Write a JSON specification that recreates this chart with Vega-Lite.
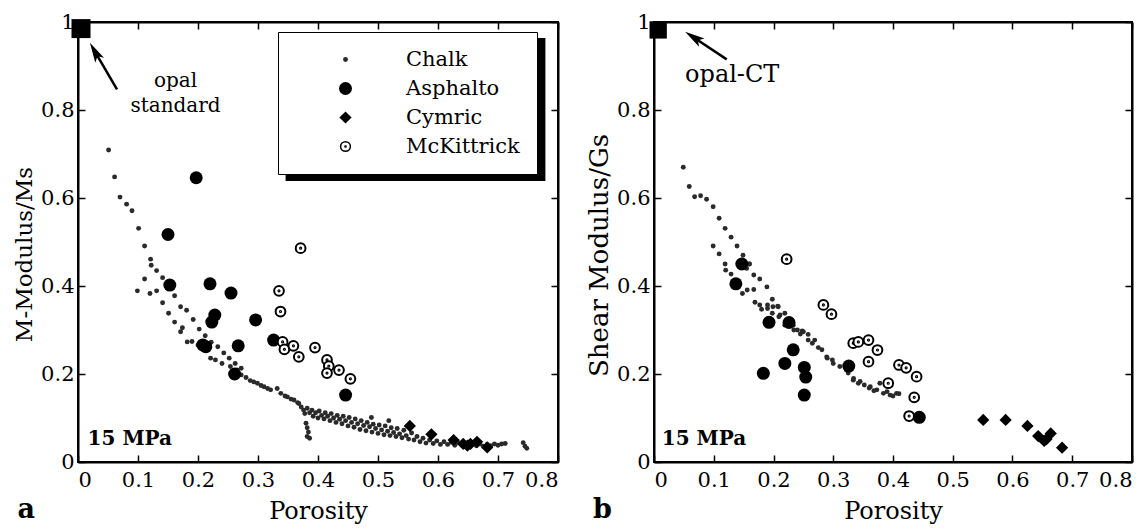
{
"$schema": "https://vega.github.io/schema/vega-lite/v6.json",
"padding": {"left": 13, "top": 11, "right": 5, "bottom": 5},
"config": {
  "view": {"stroke": null},
  "font": "DejaVu Serif",
  "axis": {"grid": false, "tickSize": -7, "labelFont": "DejaVu Serif", "labelFontSize": 21, "labelColor": "black", "titleFont": "DejaVu Serif", "titleFontWeight": "normal", "titleColor": "black"},
  "axisX": {"labelPadding": 14, "titleFontSize": 24, "titlePadding": 9},
  "axisY": {"labelPadding": 11, "titleFontSize": 23, "titlePadding": 4}
},
"datasets": {
"mmod": [
{"series":"Chalk","porosity":0.051,"value":0.709},{"series":"Chalk","porosity":0.061,"value":0.648},{"series":"Chalk","porosity":0.070,"value":0.602},{"series":"Chalk","porosity":0.081,"value":0.586},{"series":"Chalk","porosity":0.090,"value":0.571},{"series":"Chalk","porosity":0.101,"value":0.531},{"series":"Chalk","porosity":0.111,"value":0.491},{"series":"Chalk","porosity":0.121,"value":0.461},{"series":"Chalk","porosity":0.122,"value":0.447},{"series":"Chalk","porosity":0.131,"value":0.435},{"series":"Chalk","porosity":0.141,"value":0.419},{"series":"Chalk","porosity":0.151,"value":0.398},{"series":"Chalk","porosity":0.161,"value":0.378},{"series":"Chalk","porosity":0.171,"value":0.353},{"series":"Chalk","porosity":0.181,"value":0.345},{"series":"Chalk","porosity":0.192,"value":0.324},{"series":"Chalk","porosity":0.202,"value":0.302},{"series":"Chalk","porosity":0.212,"value":0.287},{"series":"Chalk","porosity":0.222,"value":0.272},{"series":"Chalk","porosity":0.233,"value":0.262},{"series":"Chalk","porosity":0.243,"value":0.248},{"series":"Chalk","porosity":0.252,"value":0.236},{"series":"Chalk","porosity":0.262,"value":0.224},{"series":"Chalk","porosity":0.272,"value":0.213},
{"series":"Chalk","porosity":0.099,"value":0.389},{"series":"Chalk","porosity":0.111,"value":0.416},{"series":"Chalk","porosity":0.120,"value":0.383},{"series":"Chalk","porosity":0.131,"value":0.389},{"series":"Chalk","porosity":0.141,"value":0.362},{"series":"Chalk","porosity":0.151,"value":0.338},{"series":"Chalk","porosity":0.161,"value":0.318},{"series":"Chalk","porosity":0.171,"value":0.296},{"series":"Chalk","porosity":0.174,"value":0.305},{"series":"Chalk","porosity":0.182,"value":0.273},{"series":"Chalk","porosity":0.190,"value":0.274},{"series":"Chalk","porosity":0.200,"value":0.266},{"series":"Chalk","porosity":0.210,"value":0.255},{"series":"Chalk","porosity":0.221,"value":0.236},{"series":"Chalk","porosity":0.229,"value":0.232},{"series":"Chalk","porosity":0.240,"value":0.224},{"series":"Chalk","porosity":0.254,"value":0.217},{"series":"Chalk","porosity":0.265,"value":0.209},{"series":"Chalk","porosity":0.272,"value":0.198},{"series":"Chalk","porosity":0.280,"value":0.192},{"series":"Chalk","porosity":0.287,"value":0.185},{"series":"Chalk","porosity":0.293,"value":0.182},{"series":"Chalk","porosity":0.299,"value":0.179},{"series":"Chalk","porosity":0.305,"value":0.174},{"series":"Chalk","porosity":0.310,"value":0.171},{"series":"Chalk","porosity":0.316,"value":0.167},{"series":"Chalk","porosity":0.321,"value":0.164},{"series":"Chalk","porosity":0.332,"value":0.167},{"series":"Chalk","porosity":0.338,"value":0.156},{"series":"Chalk","porosity":0.345,"value":0.150},{"series":"Chalk","porosity":0.349,"value":0.148},{"series":"Chalk","porosity":0.355,"value":0.143},{"series":"Chalk","porosity":0.360,"value":0.141},{"series":"Chalk","porosity":0.366,"value":0.135},{"series":"Chalk","porosity":0.368,"value":0.133},
{"series":"Chalk","porosity":0.380,"value":0.088},{"series":"Chalk","porosity":0.382,"value":0.078},{"series":"Chalk","porosity":0.384,"value":0.068},{"series":"Chalk","porosity":0.382,"value":0.058},{"series":"Chalk","porosity":0.386,"value":0.054},
{"series":"Chalk","porosity":0.372,"value":0.125},{"series":"Chalk","porosity":0.376,"value":0.118},{"series":"Chalk","porosity":0.378,"value":0.110},{"series":"Chalk","porosity":0.382,"value":0.122},{"series":"Chalk","porosity":0.386,"value":0.112},{"series":"Chalk","porosity":0.390,"value":0.118},{"series":"Chalk","porosity":0.392,"value":0.104},{"series":"Chalk","porosity":0.396,"value":0.112},{"series":"Chalk","porosity":0.400,"value":0.100},{"series":"Chalk","porosity":0.402,"value":0.116},{"series":"Chalk","porosity":0.406,"value":0.106},{"series":"Chalk","porosity":0.410,"value":0.098},{"series":"Chalk","porosity":0.412,"value":0.112},{"series":"Chalk","porosity":0.416,"value":0.104},{"series":"Chalk","porosity":0.420,"value":0.094},{"series":"Chalk","porosity":0.422,"value":0.110},{"series":"Chalk","porosity":0.426,"value":0.100},{"series":"Chalk","porosity":0.430,"value":0.090},{"series":"Chalk","porosity":0.432,"value":0.106},{"series":"Chalk","porosity":0.436,"value":0.097},{"series":"Chalk","porosity":0.440,"value":0.087},{"series":"Chalk","porosity":0.442,"value":0.104},{"series":"Chalk","porosity":0.446,"value":0.094},{"series":"Chalk","porosity":0.450,"value":0.082},{"series":"Chalk","porosity":0.452,"value":0.101},{"series":"Chalk","porosity":0.456,"value":0.090},{"series":"Chalk","porosity":0.460,"value":0.079},{"series":"Chalk","porosity":0.462,"value":0.098},{"series":"Chalk","porosity":0.466,"value":0.087},{"series":"Chalk","porosity":0.470,"value":0.074},{"series":"Chalk","porosity":0.472,"value":0.094},{"series":"Chalk","porosity":0.476,"value":0.083},{"series":"Chalk","porosity":0.480,"value":0.071},{"series":"Chalk","porosity":0.482,"value":0.090},{"series":"Chalk","porosity":0.486,"value":0.080},{"series":"Chalk","porosity":0.489,"value":0.101},{"series":"Chalk","porosity":0.490,"value":0.068},{"series":"Chalk","porosity":0.492,"value":0.086},{"series":"Chalk","porosity":0.496,"value":0.076},{"series":"Chalk","porosity":0.500,"value":0.065},{"series":"Chalk","porosity":0.502,"value":0.084},{"series":"Chalk","porosity":0.506,"value":0.073},{"series":"Chalk","porosity":0.510,"value":0.062},{"series":"Chalk","porosity":0.512,"value":0.082},{"series":"Chalk","porosity":0.516,"value":0.070},{"series":"Chalk","porosity":0.518,"value":0.094},{"series":"Chalk","porosity":0.520,"value":0.060},{"series":"Chalk","porosity":0.522,"value":0.078},{"series":"Chalk","porosity":0.526,"value":0.067},{"series":"Chalk","porosity":0.530,"value":0.058},{"series":"Chalk","porosity":0.532,"value":0.076},{"series":"Chalk","porosity":0.536,"value":0.064},{"series":"Chalk","porosity":0.540,"value":0.055},{"series":"Chalk","porosity":0.543,"value":0.072},{"series":"Chalk","porosity":0.547,"value":0.060},{"series":"Chalk","porosity":0.551,"value":0.052},{"series":"Chalk","porosity":0.556,"value":0.066},{"series":"Chalk","porosity":0.560,"value":0.050},{"series":"Chalk","porosity":0.565,"value":0.058},{"series":"Chalk","porosity":0.570,"value":0.046},{"series":"Chalk","porosity":0.575,"value":0.054},{"series":"Chalk","porosity":0.580,"value":0.043},{"series":"Chalk","porosity":0.586,"value":0.050},{"series":"Chalk","porosity":0.592,"value":0.042},{"series":"Chalk","porosity":0.598,"value":0.048},{"series":"Chalk","porosity":0.604,"value":0.040},{"series":"Chalk","porosity":0.610,"value":0.046},{"series":"Chalk","porosity":0.616,"value":0.040},{"series":"Chalk","porosity":0.622,"value":0.045},{"series":"Chalk","porosity":0.628,"value":0.038},{"series":"Chalk","porosity":0.634,"value":0.044},{"series":"Chalk","porosity":0.640,"value":0.038},{"series":"Chalk","porosity":0.646,"value":0.043},{"series":"Chalk","porosity":0.652,"value":0.037},{"series":"Chalk","porosity":0.658,"value":0.042},{"series":"Chalk","porosity":0.664,"value":0.037},{"series":"Chalk","porosity":0.670,"value":0.041},{"series":"Chalk","porosity":0.676,"value":0.036},{"series":"Chalk","porosity":0.682,"value":0.040},{"series":"Chalk","porosity":0.688,"value":0.037},{"series":"Chalk","porosity":0.694,"value":0.041},{"series":"Chalk","porosity":0.700,"value":0.038},{"series":"Chalk","porosity":0.706,"value":0.041},{"series":"Chalk","porosity":0.712,"value":0.042},{"series":"Chalk","porosity":0.742,"value":0.044},{"series":"Chalk","porosity":0.745,"value":0.036},{"series":"Chalk","porosity":0.748,"value":0.031},
{"series":"Asphalto","porosity":0.197,"value":0.646},{"series":"Asphalto","porosity":0.150,"value":0.517},{"series":"Asphalto","porosity":0.153,"value":0.402},{"series":"Asphalto","porosity":0.220,"value":0.405},{"series":"Asphalto","porosity":0.255,"value":0.384},{"series":"Asphalto","porosity":0.228,"value":0.334},{"series":"Asphalto","porosity":0.223,"value":0.318},{"series":"Asphalto","porosity":0.296,"value":0.323},{"series":"Asphalto","porosity":0.326,"value":0.277},{"series":"Asphalto","porosity":0.208,"value":0.266},{"series":"Asphalto","porosity":0.213,"value":0.262},{"series":"Asphalto","porosity":0.267,"value":0.264},{"series":"Asphalto","porosity":0.261,"value":0.200},{"series":"Asphalto","porosity":0.446,"value":0.152},
{"series":"Cymric","porosity":0.553,"value":0.082},{"series":"Cymric","porosity":0.589,"value":0.063},{"series":"Cymric","porosity":0.626,"value":0.050},{"series":"Cymric","porosity":0.642,"value":0.041},{"series":"Cymric","porosity":0.649,"value":0.037},{"series":"Cymric","porosity":0.654,"value":0.041},{"series":"Cymric","porosity":0.665,"value":0.046},{"series":"Cymric","porosity":0.682,"value":0.033},
{"series":"McKittrick","porosity":0.335,"value":0.389},{"series":"McKittrick","porosity":0.3375,"value":0.342},{"series":"McKittrick","porosity":0.341,"value":0.273},{"series":"McKittrick","porosity":0.344,"value":0.256},{"series":"McKittrick","porosity":0.359,"value":0.264},{"series":"McKittrick","porosity":0.368,"value":0.239},{"series":"McKittrick","porosity":0.395,"value":0.260},{"series":"McKittrick","porosity":0.415,"value":0.232},{"series":"McKittrick","porosity":0.418,"value":0.218},{"series":"McKittrick","porosity":0.415,"value":0.202},{"series":"McKittrick","porosity":0.435,"value":0.209},{"series":"McKittrick","porosity":0.454,"value":0.189},{"series":"McKittrick","porosity":0.371,"value":0.486}
],
"gmod": [
{"series":"Chalk","porosity":0.049,"value":0.670},{"series":"Chalk","porosity":0.059,"value":0.626},{"series":"Chalk","porosity":0.068,"value":0.603},{"series":"Chalk","porosity":0.078,"value":0.605},{"series":"Chalk","porosity":0.088,"value":0.597},{"series":"Chalk","porosity":0.099,"value":0.580},{"series":"Chalk","porosity":0.109,"value":0.554},{"series":"Chalk","porosity":0.119,"value":0.531},{"series":"Chalk","porosity":0.129,"value":0.511},{"series":"Chalk","porosity":0.139,"value":0.491},{"series":"Chalk","porosity":0.149,"value":0.470},{"series":"Chalk","porosity":0.159,"value":0.450},{"series":"Chalk","porosity":0.167,"value":0.425},{"series":"Chalk","porosity":0.177,"value":0.416},{"series":"Chalk","porosity":0.189,"value":0.398},{"series":"Chalk","porosity":0.198,"value":0.370},{"series":"Chalk","porosity":0.208,"value":0.353},{"series":"Chalk","porosity":0.219,"value":0.338},{"series":"Chalk","porosity":0.229,"value":0.315},{"series":"Chalk","porosity":0.240,"value":0.300},{"series":"Chalk","porosity":0.248,"value":0.298},{"series":"Chalk","porosity":0.258,"value":0.277},{"series":"Chalk","porosity":0.269,"value":0.277},{"series":"Chalk","porosity":0.281,"value":0.255},{"series":"Chalk","porosity":0.289,"value":0.239},{"series":"Chalk","porosity":0.300,"value":0.224},{"series":"Chalk","porosity":0.311,"value":0.217},{"series":"Chalk","porosity":0.325,"value":0.202},{"series":"Chalk","porosity":0.334,"value":0.190},{"series":"Chalk","porosity":0.345,"value":0.183},{"series":"Chalk","porosity":0.362,"value":0.171},{"series":"Chalk","porosity":0.373,"value":0.164},{"series":"Chalk","porosity":0.384,"value":0.156},{"series":"Chalk","porosity":0.395,"value":0.152},{"series":"Chalk","porosity":0.406,"value":0.156},{"series":"Chalk","porosity":0.378,"value":0.179},{"series":"Chalk","porosity":0.390,"value":0.160},{"series":"Chalk","porosity":0.400,"value":0.150},{"series":"Chalk","porosity":0.410,"value":0.155},
{"series":"Chalk","porosity":0.099,"value":0.491},{"series":"Chalk","porosity":0.109,"value":0.473},{"series":"Chalk","porosity":0.119,"value":0.450},{"series":"Chalk","porosity":0.120,"value":0.436},{"series":"Chalk","porosity":0.129,"value":0.427},{"series":"Chalk","porosity":0.148,"value":0.383},{"series":"Chalk","porosity":0.156,"value":0.391},{"series":"Chalk","porosity":0.167,"value":0.392},{"series":"Chalk","porosity":0.169,"value":0.363},{"series":"Chalk","porosity":0.180,"value":0.347},{"series":"Chalk","porosity":0.190,"value":0.349},{"series":"Chalk","porosity":0.199,"value":0.353},{"series":"Chalk","porosity":0.207,"value":0.354},{"series":"Chalk","porosity":0.198,"value":0.338},{"series":"Chalk","porosity":0.209,"value":0.330},{"series":"Chalk","porosity":0.219,"value":0.311},{"series":"Chalk","porosity":0.234,"value":0.300},{"series":"Chalk","porosity":0.245,"value":0.291},{"series":"Chalk","porosity":0.177,"value":0.357},{"series":"Chalk","porosity":0.190,"value":0.357},{"series":"Chalk","porosity":0.211,"value":0.334},{"series":"Chalk","porosity":0.233,"value":0.311},{"series":"Chalk","porosity":0.250,"value":0.296},{"series":"Chalk","porosity":0.258,"value":0.290},{"series":"Chalk","porosity":0.265,"value":0.270},{"series":"Chalk","porosity":0.275,"value":0.260},{"series":"Chalk","porosity":0.290,"value":0.236},{"series":"Chalk","porosity":0.2985,"value":0.232},{"series":"Chalk","porosity":0.322,"value":0.209},{"series":"Chalk","porosity":0.3335,"value":0.186},{"series":"Chalk","porosity":0.342,"value":0.179},{"series":"Chalk","porosity":0.352,"value":0.175},{"series":"Chalk","porosity":0.360,"value":0.168},{"series":"Chalk","porosity":0.368,"value":0.162},{"series":"Chalk","porosity":0.155,"value":0.440},{"series":"Chalk","porosity":0.160,"value":0.450},
{"series":"Asphalto","porosity":0.147,"value":0.450},{"series":"Asphalto","porosity":0.137,"value":0.405},{"series":"Asphalto","porosity":0.1925,"value":0.3175},{"series":"Asphalto","porosity":0.226,"value":0.317},{"series":"Asphalto","porosity":0.183,"value":0.2015},{"series":"Asphalto","porosity":0.219,"value":0.224},{"series":"Asphalto","porosity":0.233,"value":0.255},{"series":"Asphalto","porosity":0.2515,"value":0.215},{"series":"Asphalto","porosity":0.254,"value":0.193},{"series":"Asphalto","porosity":0.2515,"value":0.152},{"series":"Asphalto","porosity":0.326,"value":0.218},{"series":"Asphalto","porosity":0.444,"value":0.1015},
{"series":"Cymric","porosity":0.551,"value":0.0955},{"series":"Cymric","porosity":0.5885,"value":0.0955},{"series":"Cymric","porosity":0.625,"value":0.082},{"series":"Cymric","porosity":0.643,"value":0.059},{"series":"Cymric","porosity":0.653,"value":0.048},{"series":"Cymric","porosity":0.657,"value":0.052},{"series":"Cymric","porosity":0.664,"value":0.065},{"series":"Cymric","porosity":0.683,"value":0.0325},
{"series":"McKittrick","porosity":0.222,"value":0.461},{"series":"McKittrick","porosity":0.2835,"value":0.357},{"series":"McKittrick","porosity":0.297,"value":0.336},{"series":"McKittrick","porosity":0.3335,"value":0.270},{"series":"McKittrick","porosity":0.342,"value":0.273},{"series":"McKittrick","porosity":0.359,"value":0.277},{"series":"McKittrick","porosity":0.374,"value":0.2545},{"series":"McKittrick","porosity":0.359,"value":0.228},{"series":"McKittrick","porosity":0.410,"value":0.2205},{"series":"McKittrick","porosity":0.422,"value":0.214},{"series":"McKittrick","porosity":0.4395,"value":0.194},{"series":"McKittrick","porosity":0.392,"value":0.179},{"series":"McKittrick","porosity":0.4355,"value":0.147},{"series":"McKittrick","porosity":0.427,"value":0.1045}
]
},
"spacing": 96,
"bounds": "flush",
"resolve": {
  "scale": {"shape": "independent", "size": "independent", "fill": "independent", "stroke": "independent"},
  "legend": {"shape": "independent", "size": "independent", "fill": "independent", "stroke": "independent"}
},
"hconcat": [
{
  "width": 480, "height": 440,
  "layer": [
    {"data": {"values": [{"porosity": 0.346, "p2": 0.779, "value": 0.9636, "v2": 0.6386}]}, "mark": {"type": "rect", "color": "black"},
     "encoding": {"x": {"field": "porosity", "type": "quantitative", "scale": {"domain": [0, 0.8]}, "axis": null}, "x2": {"field": "p2"}, "y": {"field": "value", "type": "quantitative", "scale": {"domain": [0, 1]}, "axis": null}, "y2": {"field": "v2"}}},
    {"data": {"name": "mmod"}, "mark": {"type": "point", "opacity": 1, "strokeWidth": 2},
     "encoding": {
       "x": {"field": "porosity", "type": "quantitative", "scale": {"domain": [0, 0.8]}, "axis": {"orient": "bottom", "title": "Porosity", "values": [0,0.1,0.2,0.3,0.4,0.5,0.6,0.7,0.8], "format": ".1~f", "domain": true, "ticks": true, "domainColor": "black", "domainWidth": 2, "domainOpacity": 1, "tickColor": "black", "tickWidth": 1.5, "tickOpacity": 1, "tickSize": -7}},
       "y": {"field": "value", "type": "quantitative", "scale": {"domain": [0, 1]}, "axis": {"orient": "left", "title": "M-Modulus/Ms", "titleY": 232, "values": [0,0.2,0.4,0.6,0.8,1], "format": ".1~f", "domain": true, "ticks": true, "domainColor": "black", "domainWidth": 2, "domainOpacity": 1, "tickColor": "black", "tickWidth": 1.5, "tickOpacity": 1, "tickSize": -7}},
       "shape": {"field": "series", "type": "nominal", "scale": {"domain": ["Chalk","Asphalto","Cymric","McKittrick"], "range": ["circle","circle","diamond","M -1 0 A 1 1 0 1 1 1 0 A 1 1 0 1 1 -1 0 Z M -0.12 0 A 0.12 0.12 0 1 1 0.12 0 A 0.12 0.12 0 1 1 -0.12 0 Z"]},
         "legend": {"orient": "none", "legendX": 200, "legendY": 10, "title": null, "strokeColor": "black", "fillColor": "white", "padding": 17, "labelFont": "DejaVu Serif", "labelFontSize": 21, "labelColor": "black", "symbolOffset": 40, "labelOffset": 50, "rowPadding": 7,
           "encode": {"legend": {"update": {"strokeWidth": {"value": 2}}}, "labels": {"update": {"fill": {"signal": "datum.label === 'Chalk' ? '#8a8a8a' : 'black'"}}}}}},
       "size": {"field": "series", "type": "nominal", "scale": {"type": "ordinal", "domain": ["Chalk","Asphalto","Cymric","McKittrick"], "range": [24, 169, 150, 95]}},
       "fill": {"field": "series", "type": "nominal", "scale": {"domain": ["Chalk","Asphalto","Cymric","McKittrick"], "range": ["#2a2a2a","black","black","white"]}},
       "stroke": {"field": "series", "type": "nominal", "scale": {"domain": ["Chalk","Asphalto","Cymric","McKittrick"], "range": ["transparent","transparent","transparent","black"]}}
     }},
    {"data": {"values": [{"porosity": 0.005, "value": 0.985}]}, "mark": {"type": "point", "shape": "square", "size": 361, "filled": true, "color": "black", "opacity": 1},
     "encoding": {"x": {"field": "porosity", "type": "quantitative", "scale": {"domain": [0, 0.8]}, "axis": null}, "y": {"field": "value", "type": "quantitative", "scale": {"domain": [0, 1]}, "axis": null}}},
    {"data": {"values": [{"porosity": 0.065, "value": 0.847, "p2": 0.028, "v2": 0.933}]}, "mark": {"type": "rule", "strokeWidth": 2.5, "color": "black"},
     "encoding": {"x": {"field": "porosity", "type": "quantitative", "scale": {"domain": [0, 0.8]}, "axis": null}, "x2": {"field": "p2"}, "y": {"field": "value", "type": "quantitative", "scale": {"domain": [0, 1]}, "axis": null}, "y2": {"field": "v2"}}},
    {"data": {"values": [{"porosity": 0.028, "value": 0.933}]}, "mark": {"type": "point", "shape": "M 0 -1 L -0.5 1 L 0 0.55 L 0.5 1 Z", "size": 400, "angle": 331, "filled": true, "color": "black", "opacity": 1},
     "encoding": {"x": {"field": "porosity", "type": "quantitative", "scale": {"domain": [0, 0.8]}, "axis": null}, "y": {"field": "value", "type": "quantitative", "scale": {"domain": [0, 1]}, "axis": null}}},
    {"data": {"values": [{"porosity": 0.1625, "value": 0.852, "label": "opal"}, {"porosity": 0.1625, "value": 0.795, "label": "standard"}]}, "mark": {"type": "text", "fontSize": 20, "align": "center", "baseline": "alphabetic", "font": "DejaVu Serif", "color": "black"},
     "encoding": {"x": {"field": "porosity", "type": "quantitative", "scale": {"domain": [0, 0.8]}, "axis": null}, "y": {"field": "value", "type": "quantitative", "scale": {"domain": [0, 1]}, "axis": null}, "text": {"field": "label"}}},
    {"data": {"values": [{"porosity": 0.016, "value": 0.039, "label": "15 MPa"}]}, "mark": {"type": "text", "fontSize": 20, "fontWeight": "bold", "align": "left", "baseline": "alphabetic", "font": "DejaVu Serif", "color": "black"},
     "encoding": {"x": {"field": "porosity", "type": "quantitative", "scale": {"domain": [0, 0.8]}, "axis": null}, "y": {"field": "value", "type": "quantitative", "scale": {"domain": [0, 1]}, "axis": null}, "text": {"field": "label"}}},
    {"data": {"values": [{"porosity": -0.101, "value": -0.127, "label": "a"}]}, "mark": {"type": "text", "fontSize": 27, "fontWeight": "bold", "align": "left", "baseline": "alphabetic", "font": "DejaVu Serif", "color": "black"},
     "encoding": {"x": {"field": "porosity", "type": "quantitative", "scale": {"domain": [0, 0.8]}, "axis": null}, "y": {"field": "value", "type": "quantitative", "scale": {"domain": [0, 1]}, "axis": null}, "text": {"field": "label"}}},
    {"data": {"name": "mmod"}, "mark": {"type": "point", "opacity": 0},
     "encoding": {
       "x": {"field": "porosity", "type": "quantitative", "scale": {"domain": [0, 0.8]}, "axis": {"orient": "top", "labels": false, "title": null, "values": [0,0.1,0.2,0.3,0.4,0.5,0.6,0.7,0.8], "domain": true, "ticks": true, "domainColor": "black", "domainWidth": 2, "domainOpacity": 1, "tickColor": "black", "tickWidth": 1.5, "tickOpacity": 1, "tickSize": -7}},
       "y": {"field": "value", "type": "quantitative", "scale": {"domain": [0, 1]}, "axis": {"orient": "right", "labels": false, "title": null, "values": [0,0.2,0.4,0.6,0.8,1], "domain": true, "ticks": true, "domainColor": "black", "domainWidth": 2, "domainOpacity": 1, "tickColor": "black", "tickWidth": 1.5, "tickOpacity": 1, "tickSize": -7}}
     }},
    {"data": {"values": [{"porosity": 0, "p2": 0.8, "value": 0, "v2": 1}]}, "mark": {"type": "rect", "fill": "transparent", "stroke": "black", "strokeWidth": 2, "strokeOpacity": 1},
     "encoding": {"x": {"field": "porosity", "type": "quantitative", "scale": {"domain": [0, 0.8]}, "axis": null}, "x2": {"field": "p2"}, "y": {"field": "value", "type": "quantitative", "scale": {"domain": [0, 1]}, "axis": null}, "y2": {"field": "v2"}}}
  ],
  "resolve": {"axis": {"x": "independent", "y": "independent"}}
},
{
  "width": 478, "height": 440,
  "layer": [
    {"data": {"name": "gmod"}, "mark": {"type": "point", "opacity": 1, "strokeWidth": 2},
     "encoding": {
       "x": {"field": "porosity", "type": "quantitative", "scale": {"domain": [0, 0.8]}, "axis": {"orient": "bottom", "title": "Porosity", "values": [0,0.1,0.2,0.3,0.4,0.5,0.6,0.7,0.8], "format": ".1~f", "domain": true, "ticks": true, "domainColor": "black", "domainWidth": 2, "domainOpacity": 1, "tickColor": "black", "tickWidth": 1.5, "tickOpacity": 1, "tickSize": -7}},
       "y": {"field": "value", "type": "quantitative", "scale": {"domain": [0, 1]}, "axis": {"orient": "left", "title": "Shear Modulus/Gs", "titleFontSize": 26, "titleY": 233, "values": [0,0.2,0.4,0.6,0.8,1], "format": ".1~f", "domain": true, "ticks": true, "domainColor": "black", "domainWidth": 2, "domainOpacity": 1, "tickColor": "black", "tickWidth": 1.5, "tickOpacity": 1, "tickSize": -7}},
       "shape": {"field": "series", "type": "nominal", "scale": {"domain": ["Chalk","Asphalto","Cymric","McKittrick"], "range": ["circle","circle","diamond","M -1 0 A 1 1 0 1 1 1 0 A 1 1 0 1 1 -1 0 Z M -0.12 0 A 0.12 0.12 0 1 1 0.12 0 A 0.12 0.12 0 1 1 -0.12 0 Z"]}, "legend": null},
       "size": {"field": "series", "type": "nominal", "scale": {"type": "ordinal", "domain": ["Chalk","Asphalto","Cymric","McKittrick"], "range": [24, 169, 150, 95]}, "legend": null},
       "fill": {"field": "series", "type": "nominal", "scale": {"domain": ["Chalk","Asphalto","Cymric","McKittrick"], "range": ["#2a2a2a","black","black","white"]}, "legend": null},
       "stroke": {"field": "series", "type": "nominal", "scale": {"domain": ["Chalk","Asphalto","Cymric","McKittrick"], "range": ["transparent","transparent","transparent","black"]}, "legend": null}
     }},
    {"data": {"values": [{"porosity": 0.007, "value": 0.982}]}, "mark": {"type": "point", "shape": "square", "size": 300, "filled": true, "color": "black", "opacity": 1},
     "encoding": {"x": {"field": "porosity", "type": "quantitative", "scale": {"domain": [0, 0.8]}, "axis": null}, "y": {"field": "value", "type": "quantitative", "scale": {"domain": [0, 1]}, "axis": null}}},
    {"data": {"values": [{"porosity": 0.1217, "value": 0.915, "p2": 0.066, "v2": 0.9655}]}, "mark": {"type": "rule", "strokeWidth": 2.5, "color": "black"},
     "encoding": {"x": {"field": "porosity", "type": "quantitative", "scale": {"domain": [0, 0.8]}, "axis": null}, "x2": {"field": "p2"}, "y": {"field": "value", "type": "quantitative", "scale": {"domain": [0, 1]}, "axis": null}, "y2": {"field": "v2"}}},
    {"data": {"values": [{"porosity": 0.066, "value": 0.9655}]}, "mark": {"type": "point", "shape": "M 0 -1 L -0.5 1 L 0 0.55 L 0.5 1 Z", "size": 400, "angle": 303.5, "filled": true, "color": "black", "opacity": 1},
     "encoding": {"x": {"field": "porosity", "type": "quantitative", "scale": {"domain": [0, 0.8]}, "axis": null}, "y": {"field": "value", "type": "quantitative", "scale": {"domain": [0, 1]}, "axis": null}}},
    {"data": {"values": [{"porosity": 0.052, "value": 0.864, "label": "opal-CT"}]}, "mark": {"type": "text", "fontSize": 24, "align": "left", "baseline": "alphabetic", "font": "DejaVu Serif", "color": "black"},
     "encoding": {"x": {"field": "porosity", "type": "quantitative", "scale": {"domain": [0, 0.8]}, "axis": null}, "y": {"field": "value", "type": "quantitative", "scale": {"domain": [0, 1]}, "axis": null}, "text": {"field": "label"}}},
    {"data": {"values": [{"porosity": 0.013, "value": 0.039, "label": "15 MPa"}]}, "mark": {"type": "text", "fontSize": 20, "fontWeight": "bold", "align": "left", "baseline": "alphabetic", "font": "DejaVu Serif", "color": "black"},
     "encoding": {"x": {"field": "porosity", "type": "quantitative", "scale": {"domain": [0, 0.8]}, "axis": null}, "y": {"field": "value", "type": "quantitative", "scale": {"domain": [0, 1]}, "axis": null}, "text": {"field": "label"}}},
    {"data": {"values": [{"porosity": -0.102, "value": -0.127, "label": "b"}]}, "mark": {"type": "text", "fontSize": 27, "fontWeight": "bold", "align": "left", "baseline": "alphabetic", "font": "DejaVu Serif", "color": "black"},
     "encoding": {"x": {"field": "porosity", "type": "quantitative", "scale": {"domain": [0, 0.8]}, "axis": null}, "y": {"field": "value", "type": "quantitative", "scale": {"domain": [0, 1]}, "axis": null}, "text": {"field": "label"}}},
    {"data": {"name": "gmod"}, "mark": {"type": "point", "opacity": 0},
     "encoding": {
       "x": {"field": "porosity", "type": "quantitative", "scale": {"domain": [0, 0.8]}, "axis": {"orient": "top", "labels": false, "title": null, "values": [0,0.1,0.2,0.3,0.4,0.5,0.6,0.7,0.8], "domain": true, "ticks": true, "domainColor": "black", "domainWidth": 2, "domainOpacity": 1, "tickColor": "black", "tickWidth": 1.5, "tickOpacity": 1, "tickSize": -7}},
       "y": {"field": "value", "type": "quantitative", "scale": {"domain": [0, 1]}, "axis": {"orient": "right", "labels": false, "title": null, "values": [0,0.2,0.4,0.6,0.8,1], "domain": true, "ticks": true, "domainColor": "black", "domainWidth": 2, "domainOpacity": 1, "tickColor": "black", "tickWidth": 1.5, "tickOpacity": 1, "tickSize": -7}}
     }},
    {"data": {"values": [{"porosity": 0, "p2": 0.8, "value": 0, "v2": 1}]}, "mark": {"type": "rect", "fill": "transparent", "stroke": "black", "strokeWidth": 2, "strokeOpacity": 1},
     "encoding": {"x": {"field": "porosity", "type": "quantitative", "scale": {"domain": [0, 0.8]}, "axis": null}, "x2": {"field": "p2"}, "y": {"field": "value", "type": "quantitative", "scale": {"domain": [0, 1]}, "axis": null}, "y2": {"field": "v2"}}}
  ],
  "resolve": {"axis": {"x": "independent", "y": "independent"}}
}
]
}
